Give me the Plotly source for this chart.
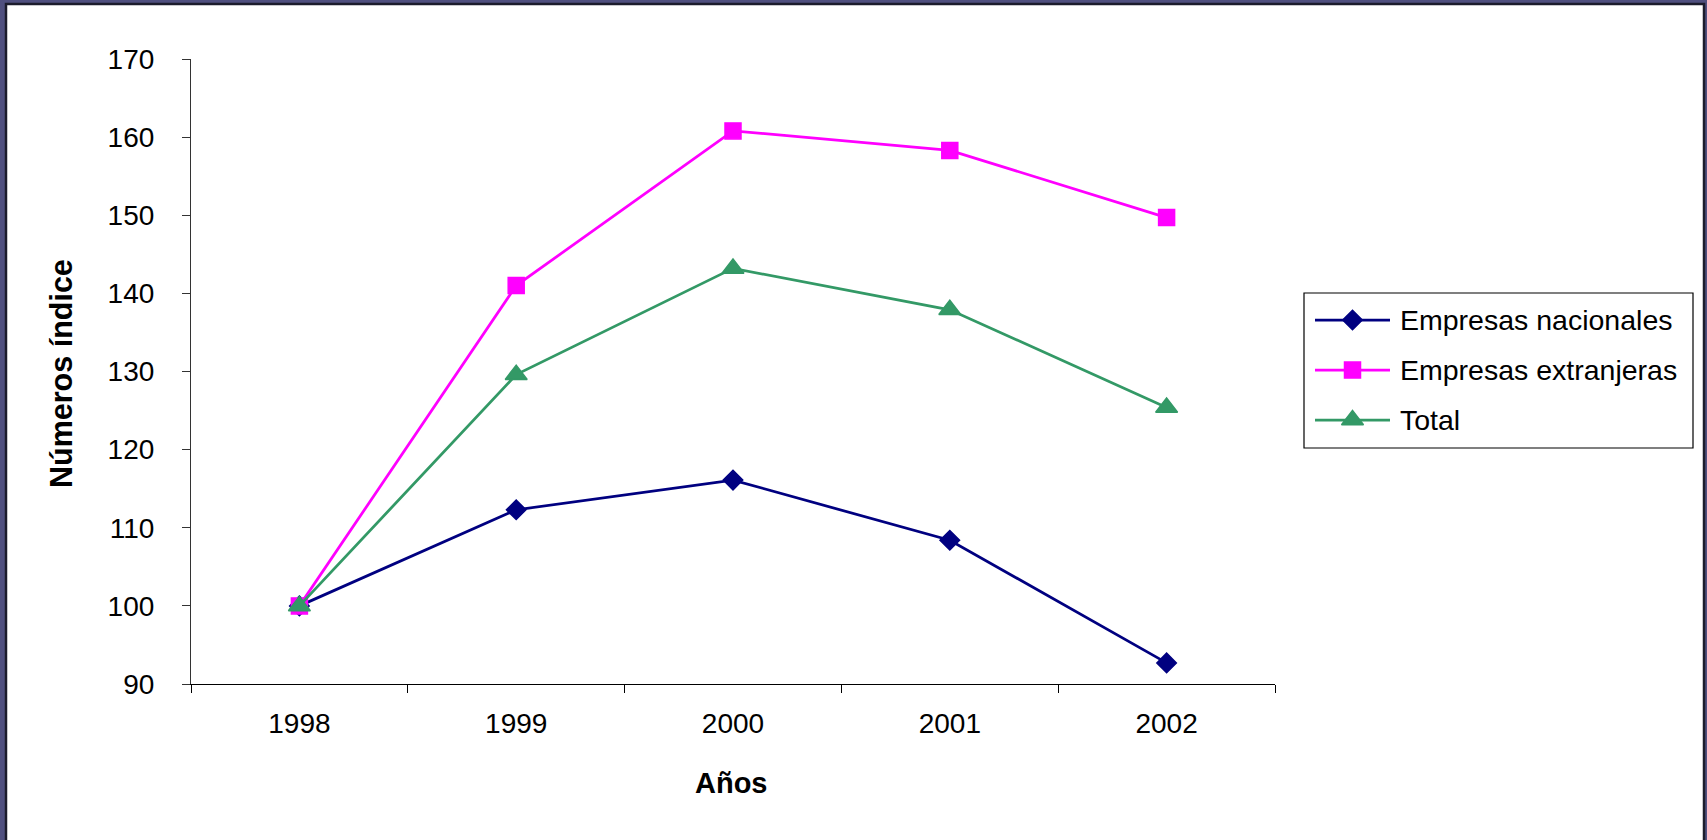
import plotly.graph_objects as go

# ---- data -----------------------------------------------------------------
years = ["1998", "1999", "2000", "2001", "2002"]
nacionales = [100, 112.3, 116.1, 108.4, 92.7]
extranjeras = [100, 141.0, 160.8, 158.3, 149.7]
total = [100, 129.6, 143.2, 137.9, 125.4]

series_names = ["Empresas nacionales", "Empresas extranjeras", "Total"]
series_values = [nacionales, extranjeras, total]

# ---- styling --------------------------------------------------------------
W, H = 1707, 840
FONT = "Liberation Sans, Arial, sans-serif"
colors = ["#000080", "#FF00FF", "#339966"]
symbols = ["diamond", "square", "triangle-up"]
sizes = [15, 16, 19]

# plot frame in pixels (left, right, top, bottom)
PL, PR, PT, PB = 191, 1275, 59, 684
# legend box in pixels
LL, LR, LT, LB = 1304, 1693, 293, 448


def fx(p):
    return p / W


def fy(p):
    return 1 - p / H


fig = go.Figure()

for name, vals, col, sym, sz in zip(series_names, series_values, colors, symbols, sizes):
    fig.add_trace(go.Scatter(
        x=years, y=vals, name=name, mode="lines+markers",
        line=dict(color=col, width=2.75),
        marker=dict(symbol=sym, size=sz, color=col, line=dict(color=col, width=1.5)),
        xaxis="x", yaxis="y", showlegend=False, cliponaxis=False,
    ))

# legend samples drawn on a small helper axis (units are pixels inside the box)
row_y = [27, 77, 127]
for name, col, sym, sz, ry in zip(series_names, colors, symbols, sizes, row_y):
    fig.add_trace(go.Scatter(
        x=[11, 86], y=[ry, ry], mode="lines",
        line=dict(color=col, width=2.75),
        xaxis="x2", yaxis="y2", showlegend=False, hoverinfo="skip",
    ))
    fig.add_trace(go.Scatter(
        x=[48.5], y=[ry], mode="markers",
        marker=dict(symbol=sym, size=sz, color=col, line=dict(color=col, width=1.5)),
        xaxis="x2", yaxis="y2", showlegend=False, hoverinfo="skip",
    ))
    fig.add_annotation(
        x=94, y=ry, xref="x2", yref="y2", text=name, showarrow=False,
        xanchor="left", yanchor="middle",
        font=dict(family=FONT, size=28.5, color="black"),
    )

# axis titles
fig.add_annotation(
    text="<b>Años</b>", x=fx(731), y=fy(783), xref="paper", yref="paper",
    showarrow=False, xanchor="center", yanchor="middle",
    font=dict(family=FONT, size=29, color="black"),
)
fig.add_annotation(
    text="<b>Números índice</b>", x=fx(61), y=fy(374), xref="paper", yref="paper",
    showarrow=False, xanchor="center", yanchor="middle", textangle=-90,
    font=dict(family=FONT, size=30.5, color="black"),
)

fig.update_layout(
    width=W, height=H,
    margin=dict(l=0, r=0, t=0, b=0),
    paper_bgcolor="#50507f",
    plot_bgcolor="rgba(0,0,0,0)",
    showlegend=False,
    font=dict(family=FONT, color="black"),
    xaxis=dict(
        type="category", domain=[fx(PL), fx(PR)], range=[-0.5, 4.5],
        showline=True, linecolor="black", linewidth=1.2,
        ticks="outside", ticklen=8, tickcolor="black", tickwidth=1.2,
        tickson="boundaries", showgrid=False, zeroline=False,
        tickfont=dict(family=FONT, size=28, color="black"),
        ticklabelstandoff=14, automargin=False, fixedrange=True,
    ),
    yaxis=dict(
        domain=[fy(PB), fy(PT)], range=[90, 170], dtick=10,
        showline=True, linecolor="#333333", linewidth=1.2,
        ticks="outside", ticklen=8, tickcolor="#333333", tickwidth=1.2,
        showgrid=False, zeroline=False,
        tickfont=dict(family=FONT, size=28, color="black"),
        ticklabelstandoff=22, automargin=False, fixedrange=True,
    ),
    xaxis2=dict(
        domain=[fx(LL), fx(LR)], range=[0, LR - LL], anchor="y2",
        visible=False, fixedrange=True,
    ),
    yaxis2=dict(
        domain=[fy(LB), fy(LT)], range=[LB - LT, 0], anchor="x2",
        visible=False, fixedrange=True,
    ),
    shapes=[
        # white slide panel
        dict(type="rect", xref="paper", yref="paper", layer="below",
             x0=fx(6), x1=fx(1704), y0=-0.02, y1=fy(4),
             fillcolor="white", line=dict(color="#1c1c2c", width=2.5)),
        # legend frame
        dict(type="rect", xref="paper", yref="paper",
             x0=fx(LL), x1=fx(LR), y0=fy(LB), y1=fy(LT),
             fillcolor="rgba(0,0,0,0)", line=dict(color="black", width=1.2)),
    ],
)

fig.write_html("out.html")
